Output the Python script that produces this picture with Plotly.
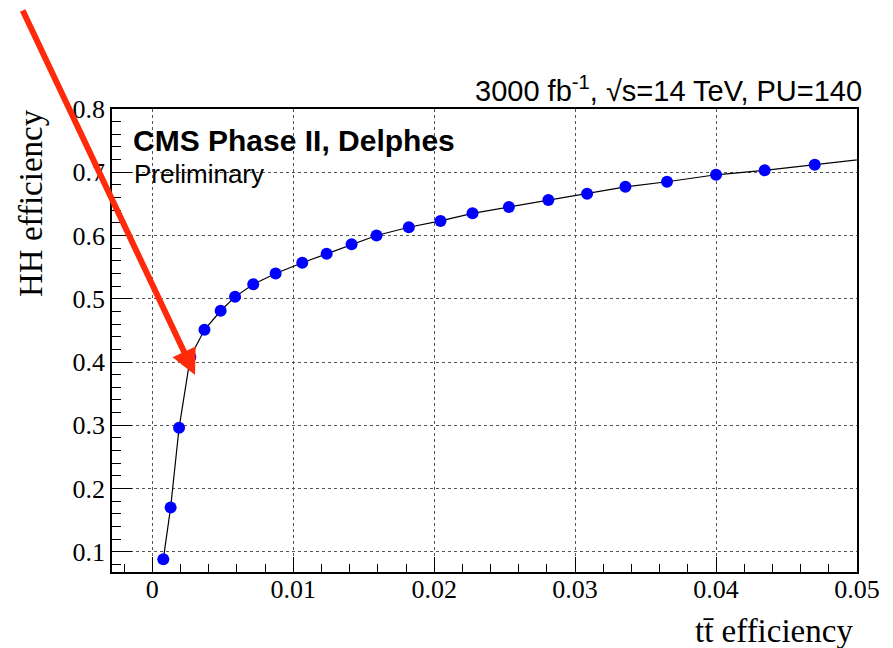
import plotly.graph_objects as go

# tt efficiency (x) and HH efficiency (y)
tt_eff = [0.00078, 0.0013, 0.0019, 0.0027, 0.0037, 0.00485, 0.00587, 0.00716,
          0.00875, 0.01064, 0.01237, 0.01414, 0.01591, 0.0182, 0.02045, 0.02272,
          0.0253, 0.0281, 0.03085, 0.03357, 0.03652, 0.0400, 0.04345, 0.0470]
hh_eff = [0.088, 0.170, 0.296, 0.408, 0.451, 0.481, 0.503, 0.523,
          0.540, 0.557, 0.571, 0.586, 0.600, 0.613, 0.623, 0.635,
          0.645, 0.656, 0.666, 0.677, 0.685, 0.696, 0.703, 0.712]
# curve continues past the visible range
tail_x = [0.0512]
tail_y = [0.7225]

x_ticks = [0, 0.01, 0.02, 0.03, 0.04, 0.05]
x_labels = ["0", "0.01", "0.02", "0.03", "0.04", "0.05"]
y_ticks = [0.1, 0.2, 0.3, 0.4, 0.5, 0.6, 0.7, 0.8]
y_labels = ["0.1", "0.2", "0.3", "0.4", "0.5", "0.6", "0.7", "0.8"]

SERIF = "Liberation Serif"
SANS = "Liberation Sans"

fig = go.Figure()
fig.add_trace(go.Scatter(
    x=tt_eff + tail_x, y=hh_eff + tail_y, mode="lines",
    line=dict(color="black", width=1.2), hoverinfo="skip", showlegend=False))
fig.add_trace(go.Scatter(
    x=tt_eff, y=hh_eff, mode="markers",
    marker=dict(color="#0000FF", size=12, line=dict(width=0)),
    showlegend=False))

axis_common = dict(
    showline=True, linecolor="black", linewidth=1.5, mirror=True,
    ticks="inside", tickcolor="black", tickwidth=1.2,
    showgrid=True, gridcolor="#555555", griddash="dot", gridwidth=1,
    zeroline=False,
    tickfont=dict(family=SERIF, size=26, color="black"),
)

fig.update_xaxes(
    range=[-0.00286, 0.05], tickvals=x_ticks, ticktext=x_labels, ticklen=15,
    ticklabelstandoff=-7,
    minor=dict(dtick=0.002, tick0=0, ticks="inside", ticklen=8,
               tickcolor="black", tickwidth=1.2, showgrid=False),
    **axis_common)
fig.update_yaxes(
    range=[0.068, 0.8], tickvals=y_ticks, ticktext=y_labels, ticklen=20,
    minor=dict(dtick=0.02, tick0=0, ticks="inside", ticklen=9,
               tickcolor="black", tickwidth=1.2, showgrid=False),
    **axis_common)

annotations = [
    dict(text="<b>CMS Phase II, Delphes</b>", xref="paper", yref="paper",
         x=0.0295, y=0.931, xanchor="left", yanchor="middle", showarrow=False,
         font=dict(family=SANS, size=30, color="black"), xshift=-3),
    dict(text="Preliminary", xref="paper", yref="paper",
         x=0.0295, y=0.860, xanchor="left", yanchor="middle", showarrow=False,
         font=dict(family=SANS, size=26, color="black"), xshift=-2),
    dict(text="3000 fb<sup>-1</sup>, √s=14 TeV, PU=140", xref="paper", yref="paper",
         x=1, y=1, xanchor="right", yanchor="middle", showarrow=False,
         xshift=7, yshift=20,
         font=dict(family=SANS, size=29, color="black")),
    dict(text="HH efficiency", xref="paper", yref="paper",
         x=0, y=1, xanchor="center", yanchor="top", textangle=-90,
         xshift=-81, yshift=2, showarrow=False,
         font=dict(family=SERIF, size=33, color="black")),
    dict(text="tt\u0304 efficiency", xref="paper", yref="paper",
         x=1, y=0, xanchor="right", yanchor="middle", showarrow=False,
         xshift=-2, yshift=-59,
         font=dict(family=SERIF, size=33, color="black")),
    dict(text="", xref="x", yref="y", x=0.00303, y=0.3796,
         ax=-173, ay=-366, axref="pixel", ayref="pixel",
         showarrow=True, arrowhead=2, arrowsize=0.85, arrowwidth=6,
         arrowcolor="#FF2A0A"),
]

# page body has an 8px margin, so the figure is 8px smaller each way
fig.update_layout(
    width=885, height=640,
    margin=dict(l=104, r=36, t=101, b=76),
    paper_bgcolor="white", plot_bgcolor="white",
    annotations=annotations,
    showlegend=False,
)

fig.write_html("out.html")
